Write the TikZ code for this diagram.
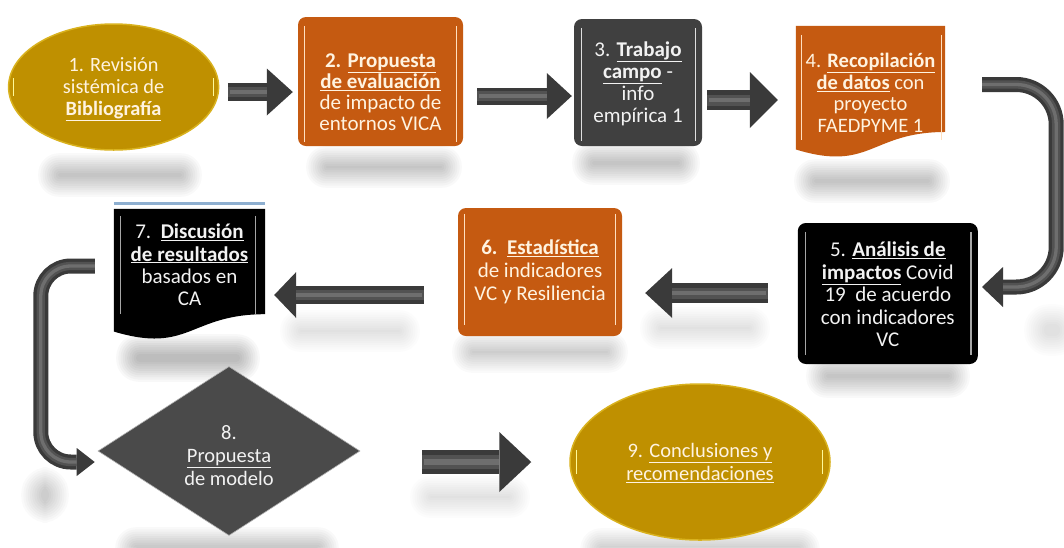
\documentclass[tikz,border=0pt]{standalone}
\usepackage{fontspec}
\setmainfont{Carlito}
\usetikzlibrary{shapes.geometric,arrows.meta,calc}
\definecolor{gold}{HTML}{BF9000}
\definecolor{goldedge}{HTML}{D9B21E}
\definecolor{orng}{HTML}{C55A11}
\definecolor{dgray}{HTML}{404040}
\definecolor{dmond}{HTML}{4A4A4A}
\definecolor{txtc}{HTML}{FFF3E0}
\definecolor{txtw}{HTML}{F2F2F2}
\definecolor{tubedark}{HTML}{3A3A3A}
\definecolor{tubemid}{HTML}{525252}
\definecolor{tubehi}{HTML}{6E6E6E}
\definecolor{blueln}{HTML}{8EAFD0}
\newcommand{\ub}[1]{\textbf{\underline{#1}}}
\newcommand{\fuzz}[5]{%
  \foreach \i in {0,...,9}{%
    \pgfmathsetmacro\hw{#3+(9-\i)*2.2}%
    \pgfmathsetmacro\hh{#4+(9-\i)*2.2}%
    \pgfmathsetmacro\rc{0.95*\hh}%
    \fill[black, fill opacity=#5, rounded corners=\rc pt] (#1-\hw,#2-\hh) rectangle (#1+\hw,#2+\hh);
  }%
}
\newcommand{\blockarrow}[5]{%
  \pgfmathsetmacro\wm{0.55*#3}\pgfmathsetmacro\wh{0.22*#3}%
  \draw[draw=tubedark, line width=#3pt, -{Triangle[width=#4pt,length=#5pt,line width=0pt]}] #1 -- #2;
  \draw[draw=tubemid, line width=\wm pt, shorten >=#5pt] #1 -- #2;
  \draw[draw=tubehi, line width=\wh pt, shorten >=#5pt, shorten <=2pt] #1 -- #2;
}
\newcommand{\curvetube}[5]{%
  \pgfmathsetmacro\wm{0.55*#2}\pgfmathsetmacro\wh{0.22*#2}%
  \draw[draw=tubedark, line width=#2pt, rounded corners=#5pt, -{Triangle[width=#3pt,length=#4pt,line width=0pt]}] #1;
  \draw[draw=tubemid, line width=\wm pt, rounded corners=#5pt, shorten >=#4pt] #1;
  \draw[draw=tubehi, line width=\wh pt, rounded corners=#5pt, shorten >=#4pt] #1;
}
\begin{document}
\begin{tikzpicture}[x=1pt,y=-1pt,
  box/.style={rectangle, rounded corners=8pt, inner sep=0pt},
  plainbox/.style={rectangle, inner sep=0pt, draw=none},
  txt/.style={text=txtc, align=center, inner sep=0pt, font=\fontsize{21}{22}\selectfont},
  txtd/.style={txt, text=txtw},
  orline/.style={draw=orange!25, line width=1.1pt},
  bkline/.style={draw=gray!70, line width=1.1pt},
  gyline/.style={draw=gray!25, line width=1.1pt},
  gdline/.style={draw=yellow!40!white, line width=1.1pt}
]
\useasboundingbox (0,0) rectangle (1064,547);
\fill[white] (0,0) rectangle (1064,547);

% soft shadows
\fuzz{120}{175}{62}{2}{0.024}
\fuzz{384}{167}{58}{1}{0.022}
\fuzz{636}{163}{44}{2}{0.022}
\fuzz{872}{181}{58}{2}{0.024}
\fuzz{888}{376}{62}{2}{0.024}
\fuzz{540}{352}{68}{1}{0.018}
\fuzz{188}{358}{52}{4}{0.026}
\fuzz{227}{549}{92}{2}{0.022}
\fuzz{700}{550}{100}{2}{0.02}
\fuzz{705}{328}{45}{1}{0.01}
\fuzz{350}{331}{50}{1}{0.01}
\fuzz{470}{497}{40}{1}{0.012}
\fuzz{45}{495}{4}{8}{0.02}
\fuzz{1052}{330}{8}{6}{0.012}

% nodes
\node[ellipse, fill=gold, draw=goldedge, line width=1.5pt, minimum width=210pt, minimum height=126pt, inner sep=0pt] (n1) at (113.6,87) {};
\node[box, fill=orng, minimum width=165pt, minimum height=129pt] (n2) at (380.5,81.5) {};
\node[box, fill=dgray, minimum width=128pt, minimum height=127pt] (n3) at (638,82.5) {};
\node[plainbox, minimum width=149pt, minimum height=132pt] (n4) at (870.5,92) {};
\fill[orng] (n4.north west) -- (n4.north east) -- ($(n4.north east)!0.802!(n4.south east)$)
  .. controls ($(n4.north)!0.802!(n4.south)$) and ($(n4.north)!1.107!(n4.south)$) .. ($(n4.north west)!0.934!(n4.south west)$) -- cycle;
\node[box, fill=black, minimum width=180pt, minimum height=141pt] (n5) at (887.8,293.5) {};
\node[box, fill=orng, minimum width=164pt, minimum height=128pt] (n6) at (540,272) {};
\node[plainbox, minimum width=151pt, minimum height=131pt] (n7) at (189.5,274.5) {};
\fill[black] (n7.north west) -- (n7.north east) -- ($(n7.north east)!0.802!(n7.south east)$)
  .. controls ($(n7.north)!0.802!(n7.south)$) and ($(n7.north)!1.107!(n7.south)$) .. ($(n7.north west)!0.934!(n7.south west)$) -- cycle;
\draw[blueln, line width=3pt] ([yshift=5pt]n7.north west) -- ([yshift=5pt]n7.north east);
\node[diamond, fill=dmond, draw=gray!60, line width=0.6pt, minimum width=262pt, minimum height=169pt, inner sep=0pt] (n8) at (229,451) {};
\node[ellipse, fill=gold, draw=goldedge, line width=1.5pt, minimum width=260pt, minimum height=156pt, inner sep=0pt] (n9) at (700,462) {};

% inner decorative lines
\draw[orline] ([xshift=7pt,yshift=-9pt]n2.north west) -- ([xshift=7pt,yshift=4pt]n2.south west);
\draw[orline] ([xshift=-7pt,yshift=-9pt]n2.north east) -- ([xshift=-7pt,yshift=4pt]n2.south east);
\draw[gyline] ([xshift=8pt,yshift=-9pt]n3.north west) -- ([xshift=8pt,yshift=5pt]n3.south west);
\draw[gyline] ([xshift=-7pt,yshift=-9pt]n3.north east) -- ([xshift=-7pt,yshift=5pt]n3.south east);
\draw[orline] ([xshift=6pt,yshift=-9pt]n4.north west) -- ([xshift=6pt,yshift=18pt]n4.south west);
\draw[orline] ([xshift=-4pt,yshift=-9pt]n4.north east) -- ([xshift=-4pt,yshift=18pt]n4.south east);
\draw[bkline] ([xshift=7.5pt,yshift=-9pt]n5.north west) -- ([xshift=7.5pt,yshift=9pt]n5.south west);
\draw[bkline] ([xshift=-7pt,yshift=-9pt]n5.north east) -- ([xshift=-7pt,yshift=9pt]n5.south east);
\draw[orline] ([xshift=7pt,yshift=-6pt]n6.north west) -- ([xshift=7pt,yshift=11pt]n6.south west);
\draw[orline] ([xshift=-6.5pt,yshift=-6pt]n6.north east) -- ([xshift=-6.5pt,yshift=11pt]n6.south east);
\draw[bkline] ([xshift=6.5pt,yshift=-7pt]n7.north west) -- ([xshift=6.5pt,yshift=26pt]n7.south west);
\draw[bkline] ([xshift=-10pt,yshift=-7pt]n7.north east) -- ([xshift=-10pt,yshift=26pt]n7.south east);
\draw[gdline] ([xshift=6pt,yshift=9pt]n1.west) -- ([xshift=6pt,yshift=-9pt]n1.west);
\draw[gdline] ([xshift=-6pt,yshift=9pt]n1.east) -- ([xshift=-6pt,yshift=-9pt]n1.east);
\draw[gdline] ([xshift=7pt,yshift=12pt]n9.west) -- ([xshift=7pt,yshift=-12pt]n9.west);
\draw[gdline] ([xshift=-8pt,yshift=12pt]n9.east) -- ([xshift=-8pt,yshift=-12pt]n9.east);

% texts
\node[txt, font=\fontsize{20.3}{22}\selectfont] (n1t) at ([yshift=-2pt]n1.center) {1. Revisión\\sistémica de\\\ub{Bibliografía}};
\node[txt, font=\fontsize{21}{21}\selectfont] (n2t) at ([yshift=-10.5pt]n2.center) {\textbf{2. \underline{Propuesta}}\\\ub{de evaluación}\\de impacto de\\entornos VICA};
\node[txtd] (n3t) at ([yshift=-1.5pt]n3.center) {3. \ub{Trabajo}\\\ub{campo} -\\info\\empírica 1};
\node[txt, font=\fontsize{20.5}{21.5}\selectfont] (n4t) at ([yshift=-1pt]n4.center) {4. \ub{Recopilación}\\\ub{de datos} con\\proyecto\\FAEDPYME 1};
\node[txtd, font=\fontsize{21}{22.5}\selectfont] (n5t) at ([yshift=-1pt]n5.center) {5. \ub{Análisis de}\\\ub{impactos} Covid\\19\ \ de acuerdo\\con indicadores\\VC};
\node[txt, font=\fontsize{21}{23}\selectfont] (n6t) at (n6.center) {\textbf{6.}\ \ \ub{Estadística}\\de indicadores\\VC y Resiliencia};
\node[txtd, font=\fontsize{21}{22.4}\selectfont] (n7t) at ([yshift=9.5pt]n7.center) {7.\ \ \ub{Discusión}\\\ub{de resultados}\\basados en\\CA};
\node[txtd, font=\fontsize{20.5}{23}\selectfont] (n8t) at ([yshift=-5pt]n8.center) {8.\\\underline{Propuesta}\\de modelo};
\node[txt, font=\fontsize{20.5}{22.5}\selectfont] (n9t) at ([yshift=-1pt]n9.center) {9. \underline{Conclusiones y}\\\underline{recomendaciones}};

% connectors
\blockarrow{([xshift=8.4pt,yshift=-5pt]n1.east)}{([xshift=-5pt,yshift=-10.5pt]n2.west)}{18}{47}{26}
\blockarrow{([xshift=14pt,yshift=-14.5pt]n2.east)}{([xshift=-2pt,yshift=-13.5pt]n3.west)}{17}{46}{25}
\blockarrow{([xshift=5pt,yshift=-17.5pt]n3.east)}{([xshift=-18pt,yshift=-8pt]n4.west)}{20}{56}{28}
\curvetube{([xshift=37pt,yshift=7.5pt]n4.east) -- ++(74,0) |- ([xshift=4pt,yshift=6.5pt]n5.east)}{15}{40}{21}{40}
\blockarrow{([xshift=-30pt,yshift=0.5pt]n5.west)}{([xshift=23pt,yshift=-21pt]n6.east)}{20}{50}{27}
\blockarrow{([xshift=-34pt,yshift=-23pt]n6.west)}{([xshift=9pt,yshift=-20.5pt]n7.east)}{18}{46}{22}
\curvetube{([xshift=-19pt,yshift=8.5pt]n7.west) -- ++(-54,0) |- ([xshift=-3pt,yshift=-11pt]n8.west)}{15}{28}{18}{30}
\blockarrow{([xshift=62pt,yshift=-11pt]n8.east)}{([xshift=-38pt]n9.west)}{24}{60}{32}
\end{tikzpicture}
\end{document}
